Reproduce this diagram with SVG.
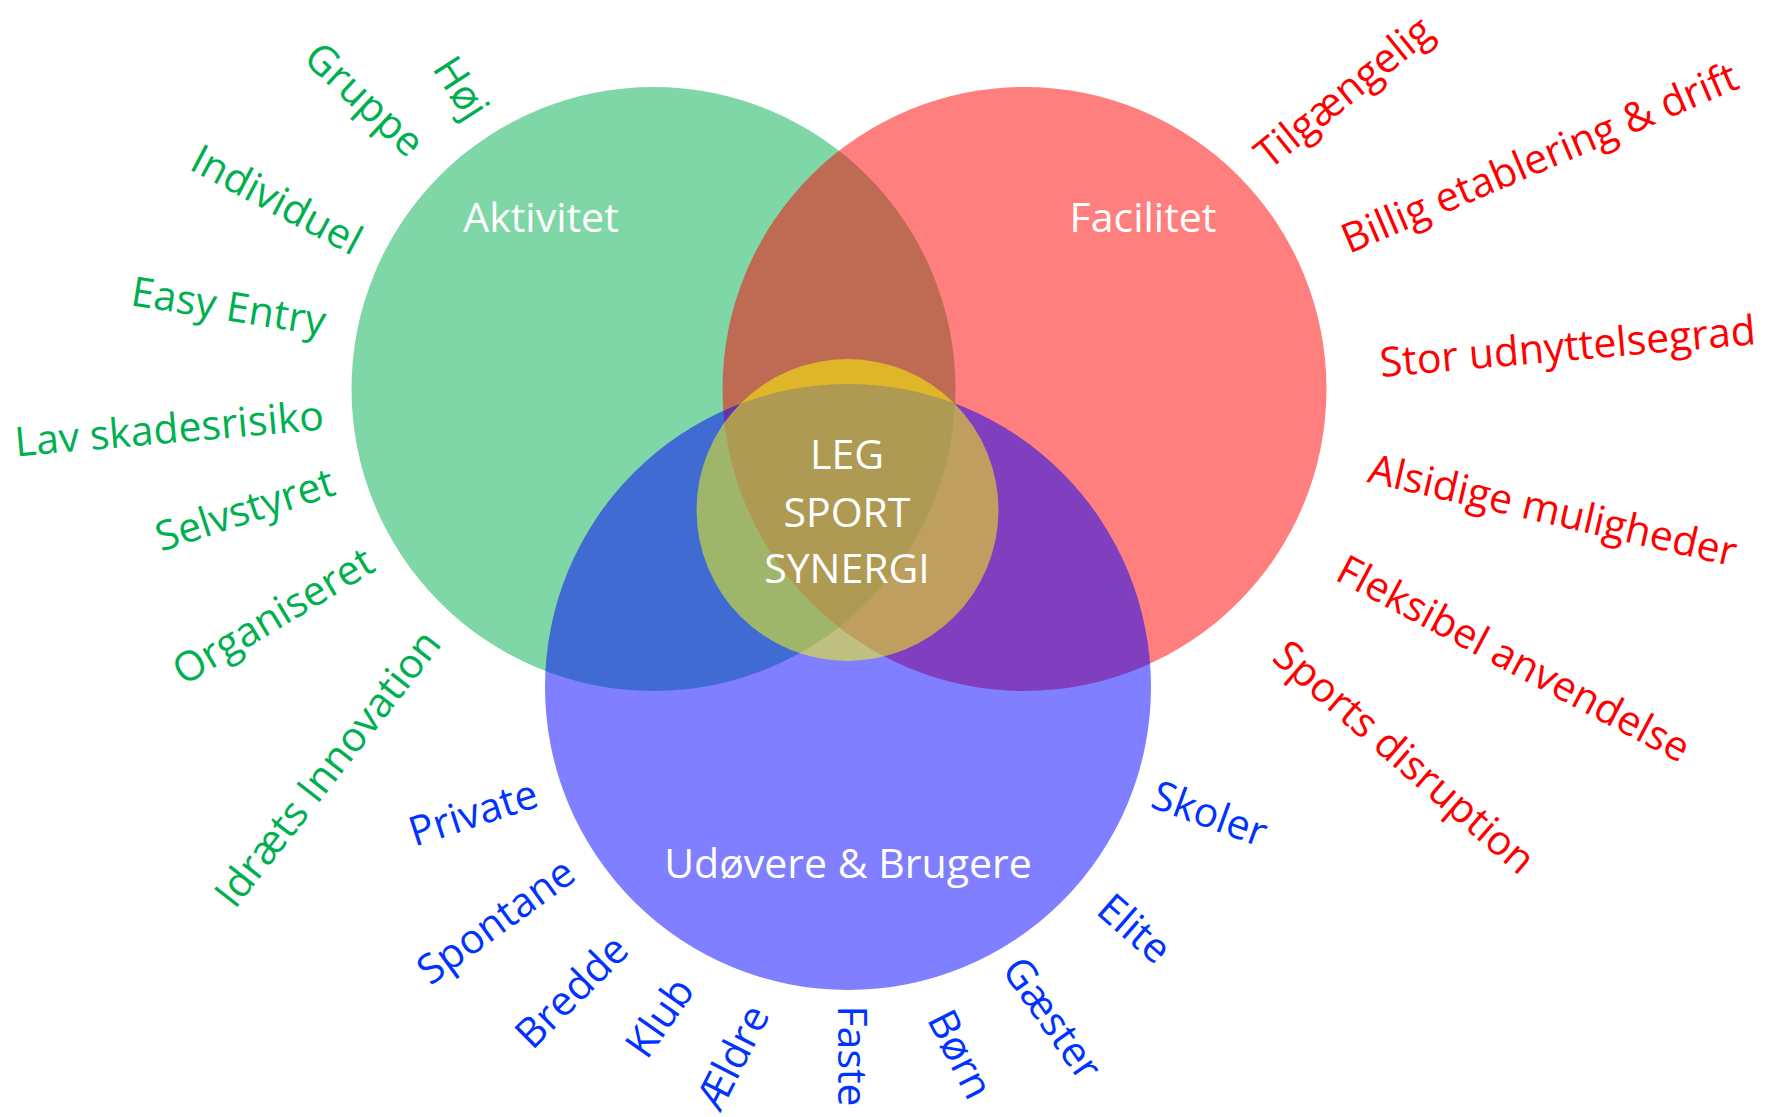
<svg xmlns="http://www.w3.org/2000/svg" width="1773" height="1117" viewBox="0 0 1773 1117">
<style>
text{font-family:"Open Sans","Noto Sans","DejaVu Sans",sans-serif;font-size:41px;text-anchor:middle}
.w{fill:#ffffff}
.g{fill:#00b050}
.r{fill:#ff0000}
.b{fill:#0033ff}
.c{fill-opacity:0.5}
</style>
<rect width="1773" height="1117" fill="#ffffff"/>
<g id="aktivitet">
<circle class="c" cx="653.5" cy="389" r="302" fill="#00b050"/>
<text class="w" x="541" y="232">Aktivitet</text>
</g>
<g id="facilitet">
<circle class="c" cx="1024.5" cy="389" r="302" fill="#ff0000"/>
<text class="w" x="1143" y="232">Facilitet</text>
</g>
<g id="udovere">
<circle class="c" cx="848" cy="687" r="303" fill="#0000ff"/>
<text class="w" x="848" y="878">Udøvere &amp; Brugere</text>
</g>
<g id="synergi">
<circle class="c" cx="847.5" cy="510" r="151" fill="#ffff00"/>
<text class="w" x="847" y="469">LEG</text>
<text class="w" x="847" y="527">SPORT</text>
<text class="w" x="847" y="583">SYNERGI</text>
</g>
<g id="connectors"/>
<g id="labels-aktivitet">
<text class="g" transform="translate(458,90) rotate(57)" y="10.5">Høj</text>
<text class="g" transform="translate(362,102) rotate(43)" y="10.5">Gruppe</text>
<text class="g" transform="translate(277,199) rotate(28)" y="15">Individuel</text>
<text class="g" transform="translate(228,310) rotate(9)" y="10.5">Easy Entry</text>
<text class="g" transform="translate(169,428) rotate(-5)" y="15">Lav skadesrisiko</text>
<text class="g" transform="translate(246,513) rotate(-18)" y="10.5">Selvstyret</text>
<text class="g" transform="translate(275,619) rotate(-31)" y="10.5">Organiseret</text>
<text class="g" transform="translate(327,768) rotate(-52)" y="15">Idræts Innovation</text>
</g>
<g id="labels-facilitet">
<text class="r" transform="translate(1346,95) rotate(-39)" y="10.5">Tilgængelig</text>
<text class="r" transform="translate(1541,161) rotate(-23)" y="10.5">Billig etablering &amp; drift</text>
<text class="r" transform="translate(1568,350) rotate(-5)" y="10.5">Stor udnyttelsegrad</text>
<text class="r" transform="translate(1552,514) rotate(13)" y="10.5">Alsidige muligheder</text>
<text class="r" transform="translate(1514,658) rotate(28)" y="15">Fleksibel anvendelse</text>
<text class="r" transform="translate(1402,760) rotate(41)" y="10.5">Sports disruption</text>
</g>
<g id="labels-udovere">
<text class="b" transform="translate(473,812) rotate(-18)" y="15">Private</text>
<text class="b" transform="translate(498,924) rotate(-36)" y="10.5">Spontane</text>
<text class="b" transform="translate(571,991) rotate(-45)" y="15">Bredde</text>
<text class="b" transform="translate(659,1017) rotate(-55)" y="15">Klub</text>
<text class="b" transform="translate(732,1057) rotate(-63)" y="15">Ældre</text>
<text class="b" transform="translate(853,1056) rotate(90)" y="15">Faste</text>
<text class="b" transform="translate(961,1054) rotate(63)" y="15">Børn</text>
<text class="b" transform="translate(1053,1018) rotate(55)" y="15">Gæster</text>
<text class="b" transform="translate(1135,928) rotate(41)" y="15">Elite</text>
<text class="b" transform="translate(1210,813) rotate(20)" y="15">Skoler</text>
</g>
</svg>
